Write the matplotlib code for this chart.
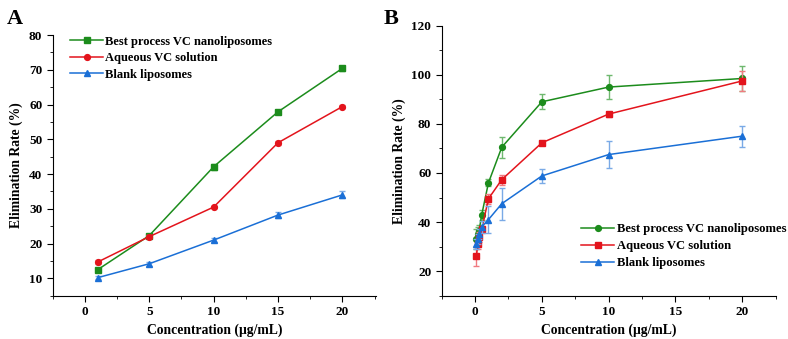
import matplotlib.pyplot as plt
from matplotlib.ticker import MultipleLocator

plt.rcParams['font.family'] = ['Liberation Serif', 'DejaVu Serif']
plt.rcParams['font.weight'] = 'bold'

labels = ['Best process VC nanoliposomes', 'Aqueous VC solution', 'Blank liposomes']
colors = ['#1c8c1c', '#e3141c', '#1a6fd6']
err_colors = ['#6fb86f', '#f07a80', '#7aaae6']

# Panel A
xa = [1, 5, 10, 15, 20]
a_best = [12.5, 22.3, 42.1, 57.9, 70.4]
a_best_err = [0.5, 0.5, 0.8, 0.5, 0.8]
a_aq = [14.7, 22.0, 30.5, 49.0, 59.4]
a_aq_err = [0.5, 0.4, 0.4, 0.5, 0.4]
a_blank = [10.2, 14.2, 21.0, 28.2, 34.0]
a_blank_err = [0.4, 0.6, 0.6, 0.8, 1.0]

# Panel B
xb = [0.1, 0.2, 0.3, 0.5, 1, 2, 5, 10, 20]
b_best = [33.0, 35.0, 36.5, 43.0, 56.0, 70.5, 89.0, 95.0, 98.5]
b_best_err = [4.0, 3.0, 2.5, 2.0, 1.5, 4.3, 3.0, 5.0, 5.0]
b_aq = [26.0, 31.0, 34.0, 37.0, 49.5, 57.3, 72.3, 84.0, 97.5]
b_aq_err = [4.0, 2.0, 2.0, 1.5, 2.0, 2.0, 0.7, 1.0, 4.0]
b_blank = [31.0, 33.0, 35.0, 38.0, 41.0, 47.5, 58.8, 67.5, 75.0]
b_blank_err = [2.0, 2.0, 2.0, 2.5, 5.5, 6.5, 3.0, 5.5, 4.3]

fig = plt.figure(figsize=(7.88, 3.39), dpi=100)
ax1 = fig.add_axes([0.0669, 0.1277, 0.41, 0.769])
ax2 = fig.add_axes([0.5605, 0.1277, 0.4239, 0.7965])


def draw(ax, x, series, errs, markers):
    for y, e, m, c, ec, lab in zip(series, errs, markers, colors, err_colors, labels):
        ax.errorbar(x, y, yerr=e, fmt='none', ecolor=ec, elinewidth=1, capsize=2.5,
                    capthick=1)
        ax.plot(x, y, color=c, marker=m, markersize=4.2, lw=1.1, label=lab)
    for s in ['top', 'right']:
        ax.spines[s].set_visible(False)
    ax.tick_params(which='both', direction='out', labelsize=9.5)
    ax.tick_params(which='major', length=4)
    ax.tick_params(which='minor', length=2)
    ax.xaxis.set_major_locator(MultipleLocator(5))
    ax.xaxis.set_minor_locator(MultipleLocator(2.5))
    ax.set_xlabel('Concentration (μg/mL)', fontsize=9.8, fontweight='bold', labelpad=4)
    ax.set_ylabel('Elimination Rate (%)', fontsize=9.8, fontweight='bold', labelpad=4)
    for t in ax.get_xticklabels() + ax.get_yticklabels():
        t.set_fontweight('bold')


draw(ax1, xa, [a_best, a_aq, a_blank], [a_best_err, a_aq_err, a_blank_err], ['s', 'o', '^'])
ax1.set_xlim(-2.5, 22.6)
ax1.set_ylim(5, 80)
ax1.yaxis.set_major_locator(MultipleLocator(10))
ax1.yaxis.set_minor_locator(MultipleLocator(5))
ax1.legend(loc='upper left', bbox_to_anchor=(0.02, 1.04), frameon=False,
           prop={'weight': 'bold', 'size': 9}, handlelength=2.6, handletextpad=0.2,
           labelspacing=0.35)

draw(ax2, xb, [b_best, b_aq, b_blank], [b_best_err, b_aq_err, b_blank_err], ['o', 's', '^'])
ax2.set_xlim(-2.5, 22.5)
ax2.set_ylim(10, 120)
ax2.yaxis.set_major_locator(MultipleLocator(20))
ax2.yaxis.set_minor_locator(MultipleLocator(10))
ax2.legend(loc='lower right', bbox_to_anchor=(1.065, 0.055), frameon=False,
           prop={'weight': 'bold', 'size': 9.1}, handlelength=2.6, handletextpad=0.2,
           labelspacing=0.4)

fig.text(0.008, 0.93, 'A', fontsize=16, fontweight='bold')
fig.text(0.487, 0.93, 'B', fontsize=16, fontweight='bold')

fig.savefig('out.png', dpi=100)
